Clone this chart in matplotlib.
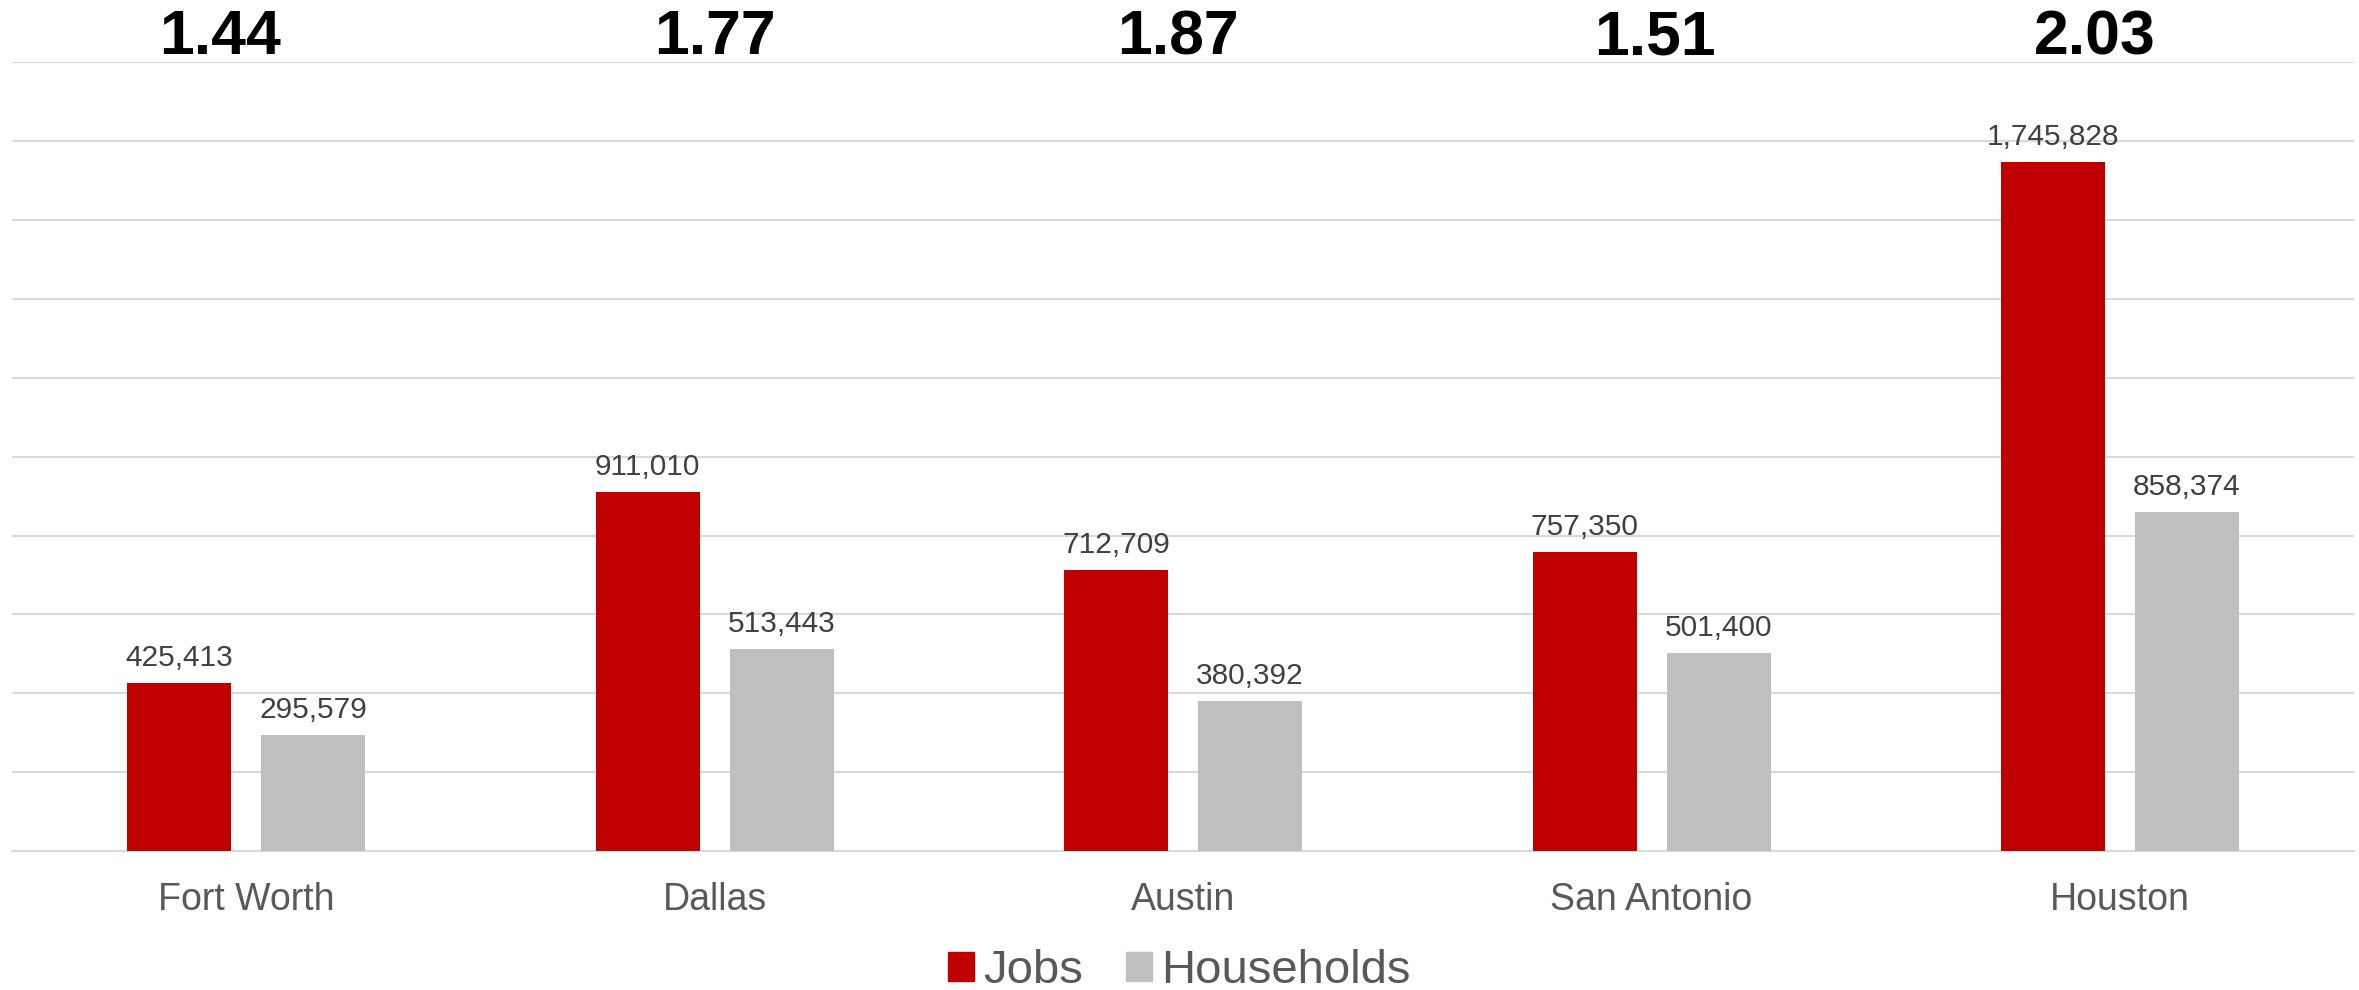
import numpy as np
import matplotlib
matplotlib.use("Agg")
import matplotlib.pyplot as plt
from matplotlib.patches import Patch

plt.rcParams['font.family'] = ['Liberation Sans', 'DejaVu Sans']

cities = ['Fort Worth', 'Dallas', 'Austin', 'San Antonio', 'Houston']
jobs = [425413, 911010, 712709, 757350, 1745828]
households = [295579, 513443, 380392, 501400, 858374]
ratios = ['1.44', '1.77', '1.87', '1.51', '2.03']

red = '#C00000'
grey = '#BFBFBF'

fig = plt.figure(figsize=(23.59, 9.9), dpi=100)
ax = fig.add_axes([0.005, 0.140, 0.993, 0.7977])

x = np.arange(len(cities))
w = 0.222
off = 0.143
b1 = ax.bar(x - off, jobs, w, color=red, zorder=3)
b2 = ax.bar(x + off, households, w, color=grey, zorder=3)

for bars, vals in [(b1, jobs), (b2, households)]:
    for rect, v in zip(bars, vals):
        ax.annotate(f'{v:,}', (rect.get_x() + rect.get_width() / 2, v),
                    xytext=(0, 8), textcoords='offset points',
                    ha='center', va='bottom', fontsize=21.5, color='#404040')

# jobs / households ratio above each city (hand placed in the original)
nudge = [-0.055, 0.0, -0.01, 0.007, -0.055]
for xi, r, n in zip(x, ratios, nudge):
    ax.annotate(r, (xi + n, 2000000), xytext=(0, -4), textcoords='offset points',
                ha='center', va='bottom', fontsize=45, fontweight='bold',
                color='black', annotation_clip=False)

ax.set_xlim(-0.5, 4.5)
ax.set_ylim(0, 2000000)
ax.set_yticks(np.arange(0, 2000001, 200000))
ax.yaxis.grid(True, color='#D9D9D9', linewidth=1.5, zorder=0)
ax.tick_params(axis='y', left=False, labelleft=False)
ax.tick_params(axis='x', length=0, pad=22, labelsize=27, labelcolor='#595959')
ax.set_xticks(x)
ax.set_xticklabels(cities)
for s in ['top', 'right', 'left']:
    ax.spines[s].set_visible(False)
ax.spines['bottom'].set_color('#D9D9D9')
ax.spines['bottom'].set_linewidth(1.5)

handles = [Patch(color=red, label='Jobs'), Patch(color=grey, label='Households')]
leg = fig.legend(handles=handles, loc='center', bbox_to_anchor=(0.5, 0.019), ncol=2,
                 frameon=False, fontsize=34, handlelength=0.55, handleheight=0.55,
                 handletextpad=0.2, columnspacing=0.9)
for t in leg.get_texts():
    t.set_color('#595959')

fig.savefig('out.png', dpi=100)
